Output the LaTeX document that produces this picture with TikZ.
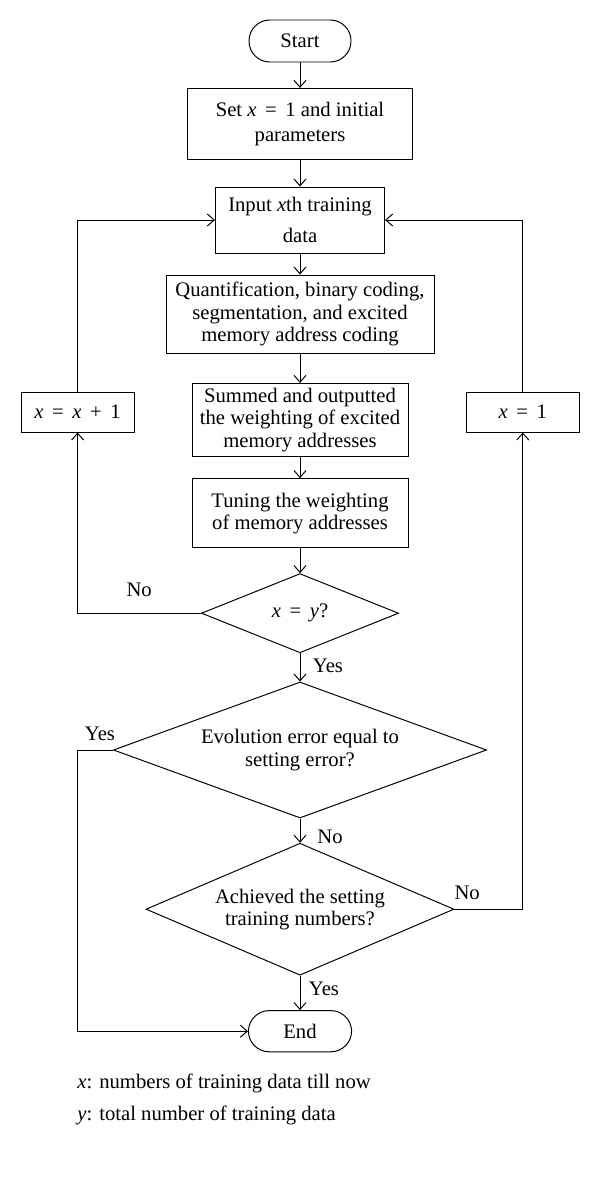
\documentclass[tikz,border=0pt]{standalone}
\usepackage{fontspec}
\setmainfont{Liberation Serif}
\usetikzlibrary{shapes.geometric}
\usetikzlibrary{arrows.meta}

\begin{document}
\begin{tikzpicture}
\tikzset{thinline/.style={line width=0.7pt}}
\tikzset{myedgestyle/.style={thinline, -{Straight Barb[length=1.7mm,width=3mm]}}}
\tikzset{procbox/.style={draw, thinline, align=center, inner sep=1pt, font=\fontsize{14.7}{15.8}\selectfont}}
\tikzset{termbox/.style={procbox, rounded corners=0.52cm}}
\tikzset{decbox/.style={procbox, diamond, inner sep=0pt}}
\tikzset{lbl/.style={font=\fontsize{14.7}{15.8}\selectfont, inner sep=0pt}}

\useasboundingbox (0,0) rectangle (15,-30.025);

\node [termbox, minimum width=2.55cm, minimum height=1.05cm] (start) at (7.5,-1.025) {Start};
\node [procbox, minimum width=5.63cm, minimum height=1.78cm] (init) at (7.5,-3.1) {Set \textit{x} \,= \,1 and initial\\[2pt]parameters};
\node [procbox, minimum width=4.23cm, minimum height=1.65cm] (input) at (7.5,-5.5) {Input \textit{x}th training\\[6pt]data};
\node [procbox, minimum width=6.7cm, minimum height=1.95cm] (quant) at (7.5,-7.85) {Quantification, binary coding,\\segmentation, and excited\\memory address coding};
\node [procbox, minimum width=5.4cm, minimum height=1.83cm] (summ) at (7.5,-10.5) {Summed and outputted\\the weighting of excited\\memory addresses};
\node [procbox, minimum width=5.4cm, minimum height=1.73cm] (tune) at (7.5,-12.83) {Tuning the weighting\\of memory addresses};
\node [decbox, aspect=2.49, minimum width=4.93cm, minimum height=1.98cm] (d1) at (7.5,-15.33) {\textit{x} \,= \,\textit{y}?};
\node [decbox, aspect=2.74, minimum width=9.33cm, minimum height=3.4cm] (d2) at (7.5,-18.75) {Evolution error equal to\\setting error?};
\node [decbox, aspect=2.33, minimum width=7.7cm, minimum height=3.3cm] (d3) at (7.5,-22.73) {Achieved the setting\\training numbers?};
\node [termbox, minimum width=2.58cm, minimum height=1.03cm] (stop) at (7.5,-25.78) {End};

\node [procbox, minimum width=2.83cm, minimum height=1.0cm] (inc) at (1.94,-10.3) {\textit{x} \,= \,\textit{x} \,+ \,1};
\node [procbox, minimum width=2.83cm, minimum height=1.0cm] (reset) at (13.07,-10.3) {\textit{x} \,= \,1};

\node [lbl] (no1) at (3.48,-14.75) {No};
\node [lbl] (yes1) at (8.2,-16.65) {Yes};
\node [lbl] (yes2) at (2.5,-18.35) {Yes};
\node [lbl] (no2) at (8.25,-20.93) {No};
\node [lbl] (no3) at (11.68,-22.33) {No};
\node [lbl] (yes3) at (8.1,-24.73) {Yes};

\node [lbl, anchor=west] (key1) at (1.93,-27.08) {\textit{x}: numbers of training data till now};
\node [lbl, anchor=west] (key2) at (1.93,-27.88) {\textit{y}: total number of training data};

\draw [myedgestyle] (start) -- (init);
\draw [myedgestyle] (init) -- (input);
\draw [myedgestyle] (input) -- (quant);
\draw [myedgestyle] (quant) -- (summ);
\draw [myedgestyle] (summ) -- (tune);
\draw [myedgestyle] (tune) -- (d1);
\draw [myedgestyle] (d1) -- (d2);
\draw [myedgestyle] (d2) -- (d3);
\draw [myedgestyle] (d3) -- (stop);

\draw [myedgestyle] (d1.west) -| (inc.south);
\draw [myedgestyle] (inc.north) |- (input.west);
\draw [myedgestyle] (d3.east) -| (reset.south);
\draw [myedgestyle] (reset.north) |- (input.east);
\draw [myedgestyle] (d2.west) -- (d2.west -| inc.south) |- (stop.west);
\end{tikzpicture}
\end{document}
